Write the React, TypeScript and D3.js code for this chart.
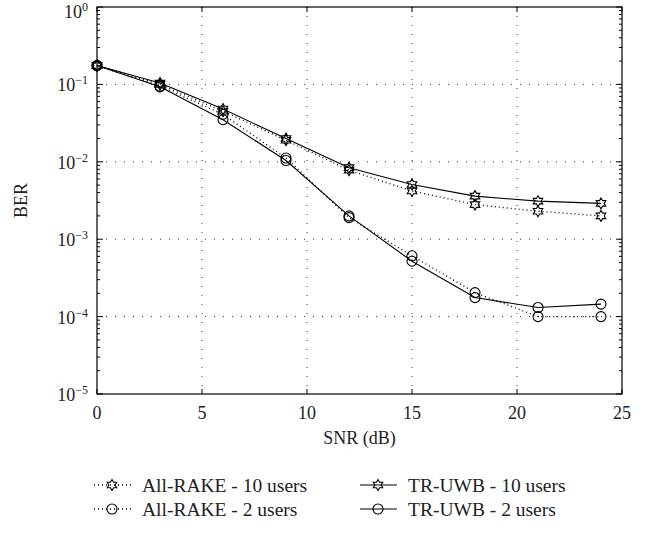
import { useEffect, useRef } from 'react';
import * as d3 from 'd3';

// SNR points (dB)
const snr = [0, 3, 6, 9, 12, 15, 18, 21, 24];

// BER values
const allRake10 = [0.175, 0.1, 0.045, 0.019, 0.0078, 0.0042, 0.0028, 0.0023, 0.002];
const allRake2 = [0.175, 0.095, 0.041, 0.0112, 0.0019, 0.00061, 0.000204, 0.0001, 0.0001];
const trUwb10 = [0.175, 0.104, 0.048, 0.02, 0.0084, 0.0051, 0.0036, 0.0031, 0.0029];
const trUwb2 = [0.175, 0.093, 0.035, 0.0104, 0.002, 0.00052, 0.000176, 0.000131, 0.000145];

const xTicks = [0, 5, 10, 15, 20, 25];
const yExponents = [0, -1, -2, -3, -4, -5];

const series = [
  { name: 'All-RAKE - 10 users', values: allRake10, dotted: true, marker: 'star' },
  { name: 'All-RAKE - 2 users', values: allRake2, dotted: true, marker: 'circle' },
  { name: 'TR-UWB - 10 users', values: trUwb10, dotted: false, marker: 'star' },
  { name: 'TR-UWB - 2 users', values: trUwb2, dotted: false, marker: 'circle' },
];

const W = 650;
const H = 533;
const FONT = '"Liberation Serif", "Times New Roman", serif';

// six pointed star (matlab 'h' marker)
function hexagram(r: number) {
  const pts: [number, number][] = [];
  const inner = r / Math.sqrt(3);
  for (let i = 0; i < 12; i++) {
    const a = (Math.PI / 6) * i - Math.PI / 2;
    const rr = i % 2 === 0 ? r : inner;
    pts.push([rr * Math.cos(a), rr * Math.sin(a)]);
  }
  return 'M' + pts.map((p) => p.join(',')).join('L') + 'Z';
}

const BerChart = () => {
  const svgRef = useRef<SVGSVGElement>(null);

  useEffect(() => {
    const margin = { top: 7, right: 28, bottom: 139, left: 97 };
    const innerW = W - margin.left - margin.right;
    const innerH = H - margin.top - margin.bottom;

    const svg = d3.select(svgRef.current).attr('width', W).attr('height', H);
    svg.selectAll('*').remove();

    const x = d3.scaleLinear().domain([0, 25]).range([0, innerW]);
    const y = d3.scaleLog().domain([1e-5, 1]).range([innerH, 0]);

    const g = svg.append('g').attr('transform', `translate(${margin.left},${margin.top})`);

    // dotted grid
    g.selectAll('.vgrid')
      .data(xTicks.slice(1, -1))
      .enter()
      .append('line')
      .attr('x1', (d) => x(d))
      .attr('x2', (d) => x(d))
      .attr('y1', 0)
      .attr('y2', innerH)
      .attr('stroke', '#333')
      .attr('stroke-width', 1)
      .attr('stroke-dasharray', '1,8');
    g.selectAll('.hgrid')
      .data(yExponents.slice(1, -1))
      .enter()
      .append('line')
      .attr('x1', 0)
      .attr('x2', innerW)
      .attr('y1', (d) => y(Math.pow(10, d)))
      .attr('y2', (d) => y(Math.pow(10, d)))
      .attr('stroke', '#333')
      .attr('stroke-width', 1)
      .attr('stroke-dasharray', '1,8');

    // minor + major ticks on log axis (inside, both sides)
    const yTickVals: { v: number; major: boolean }[] = [];
    for (let e = -5; e < 0; e++) {
      for (let m = 1; m < 10; m++) yTickVals.push({ v: m * Math.pow(10, e), major: m === 1 });
    }
    yTickVals.push({ v: 1, major: true });
    yTickVals.forEach((t) => {
      const len = t.major ? 6 : 3;
      g.append('line').attr('x1', 0).attr('x2', len).attr('y1', y(t.v)).attr('y2', y(t.v)).attr('stroke', '#000');
      g.append('line').attr('x1', innerW).attr('x2', innerW - len).attr('y1', y(t.v)).attr('y2', y(t.v)).attr('stroke', '#000');
    });
    xTicks.forEach((t) => {
      g.append('line').attr('x1', x(t)).attr('x2', x(t)).attr('y1', innerH).attr('y2', innerH - 5).attr('stroke', '#000');
      g.append('line').attr('x1', x(t)).attr('x2', x(t)).attr('y1', 0).attr('y2', 5).attr('stroke', '#000');
    });

    // frame
    g.append('rect')
      .attr('x', 0)
      .attr('y', 0)
      .attr('width', innerW)
      .attr('height', innerH)
      .attr('fill', 'none')
      .attr('stroke', '#000')
      .attr('stroke-width', 1.2);

    // tick labels
    g.selectAll('.xlabel')
      .data(xTicks)
      .enter()
      .append('text')
      .attr('x', (d) => x(d))
      .attr('y', innerH + 25)
      .attr('text-anchor', 'middle')
      .style('font-family', FONT)
      .style('font-size', '18px')
      .style('fill', '#222')
      .text((d) => d);

    yExponents.forEach((e) => {
      // the top label sits a bit lower so it stays inside the picture
      const shift = e === 0 ? 4 : 0;
      const t = g
        .append('text')
        .attr('x', -9)
        .attr('y', y(Math.pow(10, e)) + 7 + shift)
        .attr('text-anchor', 'end')
        .style('font-family', FONT)
        .style('font-size', '18px')
        .style('fill', '#222');
      t.append('tspan').text('10');
      t.append('tspan')
        .attr('dy', -7)
        .style('font-size', '12px')
        .text(e === 0 ? '0' : '\u2212' + -e);
    });

    // axis titles
    g.append('text')
      .attr('x', innerW / 2)
      .attr('y', innerH + 50)
      .attr('text-anchor', 'middle')
      .style('font-family', FONT)
      .style('font-size', '18px')
      .style('fill', '#222')
      .text('SNR (dB)');
    g.append('text')
      .attr('transform', `translate(${-70},${innerH / 2}) rotate(-90)`)
      .attr('text-anchor', 'middle')
      .style('font-family', FONT)
      .style('font-size', '18px')
      .style('fill', '#222')
      .text('BER');

    const line = d3
      .line<number>()
      .x((_, i) => x(snr[i]))
      .y((d) => y(d));

    const drawMarker = (sel: any, kind: string, cx: number, cy: number) => {
      if (kind === 'circle') {
        sel.append('circle').attr('cx', cx).attr('cy', cy).attr('r', 5)
          .attr('fill', 'none').attr('stroke', '#000').attr('stroke-width', 1.1);
      } else {
        sel.append('path').attr('d', hexagram(5.5)).attr('transform', `translate(${cx},${cy})`)
          .attr('fill', 'none').attr('stroke', '#000').attr('stroke-width', 1.1);
      }
    };

    series.forEach((s) => {
      g.append('path')
        .datum(s.values)
        .attr('d', line)
        .attr('fill', 'none')
        .attr('stroke', '#000')
        .attr('stroke-width', s.dotted ? 1.3 : 1.1)
        .attr('stroke-dasharray', s.dotted ? '1,3' : null);
      s.values.forEach((v, i) => drawMarker(g, s.marker, x(snr[i]), y(v)));
    });

    // legend, two columns
    const legend = svg.append('g');
    series.forEach((s, i) => {
      const col = i < 2 ? 0 : 1;
      const row = i % 2;
      const lx = col === 0 ? 94 : 360;
      const ly = 485 + row * 24;
      legend.append('line')
        .attr('x1', lx).attr('x2', lx + 37).attr('y1', ly).attr('y2', ly)
        .attr('stroke', '#000')
        .attr('stroke-width', s.dotted ? 1.3 : 1.1)
        .attr('stroke-dasharray', s.dotted ? '1,3' : null);
      drawMarker(legend, s.marker, lx + 18, ly);
      legend.append('text')
        .attr('x', lx + 48)
        .attr('y', ly + 7)
        .style('font-family', FONT)
        .style('font-size', '19.5px')
        .style('fill', '#222')
        .text(s.name);
    });
  }, []);

  return <svg ref={svgRef} style={{ position: 'absolute', left: 0, top: 0 }} />;
};

export default function App() {
  return <BerChart />;
}
